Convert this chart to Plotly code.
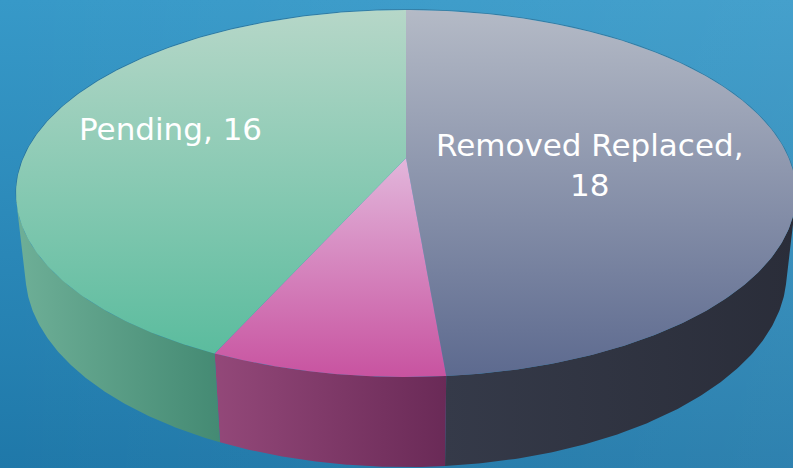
import numpy as np
import plotly.graph_objects as go

# ---- data (clockwise from 12 o'clock) ----
categories = ["Removed Replaced", "Other", "Pending"]
values = [18, 3, 16]
show_label = [True, False, True]

# ---- styles ----
top_colors = [["#b4bac6", "#5d6a8f"], ["#e2b6db", "#c853a0"], ["#b6d7c8", "#5bbc9e"]]
side_colors = [["#353a49", "#2a2d39"], ["#934879", "#6a2a57"], ["#6eaf97", "#448a73"]]
label_r = [0.48, 0.6, 0.66]
label_dtheta = [7, 0, 3]

# ---- perspective camera (screen pixels) ----
W, H = 793, 468
SX0, SY0 = 406.0, 158.0
F = 1754.0
D = 4.584
ELEV = np.degrees(np.arcsin(0.4616))
THICK = 0.2356
se, ce = np.sin(np.radians(ELEV)), np.cos(np.radians(ELEV))


def proj(theta_deg, r, z):
    th = np.radians(np.asarray(theta_deg, dtype=float))
    u = r * np.sin(th)
    v = r * np.cos(th)
    depth = D + v * ce - z * se
    x = SX0 + F * u / depth
    y = SY0 - F * (v * se + z * ce) / depth
    return x, y


total = float(sum(values))
bounds = np.concatenate([[0.0], np.cumsum(values) / total * 360.0])

# visible range of the rim
lim = np.degrees(np.arccos(-1.0 / (D * ce)))
vis_lo, vis_hi = lim, 360.0 - lim

fig = go.Figure()

# background gradient
bx = [0, W, W, 0, 0]
by = [0, 0, H, H, 0]
fig.add_trace(go.Scatter(x=bx, y=by, fill="toself", mode="lines", line=dict(width=0),
                         fillgradient=dict(type="vertical",
                                           colorscale=[[0, "#1f78a9"], [1, "#3799c8"]]),
                         hoverinfo="skip", showlegend=False))
fig.add_trace(go.Scatter(x=bx, y=by, fill="toself", mode="lines", line=dict(width=0),
                         fillgradient=dict(type="horizontal",
                                           colorscale=[[0, "rgba(255,255,255,0)"],
                                                       [1, "rgba(255,255,255,0.07)"]]),
                         hoverinfo="skip", showlegend=False))

# sides
for i, cat in enumerate(categories):
    a, b = bounds[i], bounds[i + 1]
    lo, hi = max(a, vis_lo), min(b, vis_hi)
    if hi <= lo:
        continue
    th = np.linspace(lo, hi, 120)
    xt, yt = proj(th, 1.0, 0.0)
    xb, yb = proj(th[::-1], 1.0, -THICK)
    xs = np.concatenate([xt, xb, xt[:1]])
    ys = np.concatenate([yt, yb, yt[:1]])
    fig.add_trace(go.Scatter(x=xs, y=ys, fill="toself", mode="lines", line=dict(width=0),
                             fillgradient=dict(type="horizontal",
                                               colorscale=[[0, side_colors[i][0]],
                                                           [1, side_colors[i][1]]]),
                             hoverinfo="skip", showlegend=False))

# faint rim shadow along the back edge
th_back = np.linspace(vis_hi - 360.0, vis_lo, 300)
rx, ry = proj(th_back, 1.0, 0.0)
fig.add_trace(go.Scatter(x=rx, y=ry - 0.5, mode="lines",
                         line=dict(width=1.0, color="rgba(25,40,60,0.28)"),
                         hoverinfo="skip", showlegend=False))

# top faces
for i, cat in enumerate(categories):
    a, b = bounds[i], bounds[i + 1]
    th = np.linspace(a, b, 240)
    xa, ya = proj(th, 1.0, 0.0)
    xc, yc = proj(0.0, 0.0, 0.0)
    xs = np.concatenate([[xc], xa, [xc]])
    ys = np.concatenate([[yc], ya, [yc]])
    fig.add_trace(go.Scatter(x=xs, y=ys, fill="toself", mode="lines", line=dict(width=0),
                             fillgradient=dict(type="vertical",
                                               colorscale=[[0, top_colors[i][1]],
                                                           [1, top_colors[i][0]]]),
                             name=cat, hoverinfo="skip", showlegend=False))

# labels
for i, cat in enumerate(categories):
    if not show_label[i]:
        continue
    mid = (bounds[i] + bounds[i + 1]) / 2 + label_dtheta[i]
    lx, ly = proj(mid, label_r[i], 0.0)
    text = f"{cat}, {values[i]}"
    if len(text) > 14:
        text = text.replace(", ", ",<br>")
    fig.add_annotation(x=float(lx), y=float(ly), text=text, showarrow=False,
                       font=dict(family="DejaVu Sans", size=31, color="white"),
                       xanchor="center", yanchor="middle")

fig.update_layout(
    width=W, height=H, margin=dict(l=0, r=0, t=0, b=0),
    paper_bgcolor="#2a88bb", plot_bgcolor="#2a88bb",
    xaxis=dict(range=[0, W], visible=False, fixedrange=True),
    yaxis=dict(range=[H, 0], visible=False, fixedrange=True),
    showlegend=False,
)

fig.write_html("out.html", config={"displayModeBar": False},
               post_script="document.body.style.margin='0';document.body.style.overflow='hidden';")
